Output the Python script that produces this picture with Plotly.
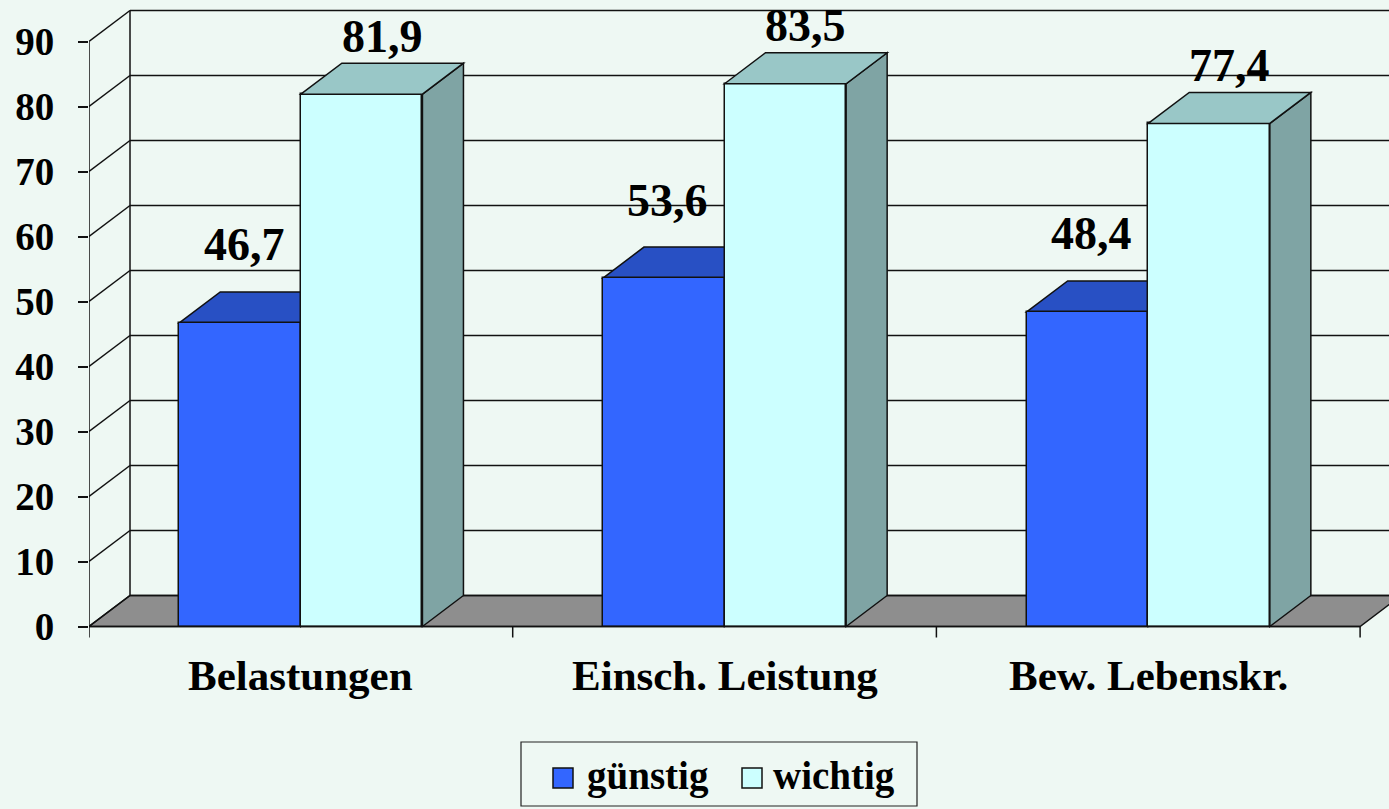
import plotly.graph_objects as go

# ---- data -------------------------------------------------------------
categories = ["Belastungen", "Einsch. Leistung", "Bew. Lebenskr."]
series_names = ["günstig", "wichtig"]
guenstig = [46.7, 53.6, 48.4]
wichtig = [81.9, 83.5, 77.4]
y_ticks = [0, 10, 20, 30, 40, 50, 60, 70, 80, 90]

# ---- styling ----------------------------------------------------------
BG = "#eef8f3"
FONT = "'Liberation Serif', 'Times New Roman', Times, 'DejaVu Serif', serif"
LINE = "#111111"
front_colors = ["#3366ff", "#ccffff"]
top_colors = ["#2850c4", "#99c7c7"]
side_colors = ["#2244aa", "#7fa4a4"]
FLOOR = "#8e8e8e"

W, H = 1389, 809
M_L, M_R, M_T, M_B = 89, 0, 0, 159
PLOT_W = W - M_L - M_R
PLOT_H = H - M_T - M_B

PX_PER_CAT = 423.7          # horizontal pixels for one category
PX_PER_UNIT = 6.5           # vertical pixels for one value unit
ZERO_PX = 626.5             # pixel row of the front zero line
DEPTH_X = 41 / PX_PER_CAT   # 3D depth offset in data units
DEPTH_Y = 31 / PX_PER_UNIT

GAP = 0.213                 # empty space at each side of a category
BAR_W = (1 - 2 * GAP) / 2

x_range = [0, PLOT_W / PX_PER_CAT]
y_range = [-(M_T + PLOT_H - ZERO_PX) / PX_PER_UNIT, (ZERO_PX - M_T) / PX_PER_UNIT]
n_cat = len(categories)
y_top = max(y_ticks)


def px_to_paper(px, py):
    return (px - M_L) / PLOT_W, (M_T + PLOT_H - py) / PLOT_H


shapes = []
line = dict(color=LINE, width=1.5)

# floor
shapes.append(dict(
    type="path", xref="x", yref="y", layer="below",
    path=(f"M0,0 L{n_cat},0 L{n_cat + DEPTH_X},{DEPTH_Y} "
          f"L{x_range[1] + 1},{DEPTH_Y} L{DEPTH_X},{DEPTH_Y} Z"),
    fillcolor=FLOOR, line=line))

# back-wall gridlines and left-wall diagonals
for v in y_ticks:
    shapes.append(dict(type="line", xref="x", yref="y", layer="below",
                       x0=DEPTH_X, x1=x_range[1] + 1, y0=v + DEPTH_Y, y1=v + DEPTH_Y,
                       line=line))
    shapes.append(dict(type="line", xref="x", yref="y", layer="below",
                       x0=0, x1=DEPTH_X, y0=v, y1=v + DEPTH_Y, line=line))
# back-wall corner and front axis line
shapes.append(dict(type="line", xref="x", yref="y", layer="below",
                   x0=DEPTH_X, x1=DEPTH_X, y0=DEPTH_Y, y1=y_top + DEPTH_Y, line=line))
shapes.append(dict(type="line", xref="x", yref="y", layer="above",
                   x0=0, x1=0, y0=0, y1=y_top, line=line))
# category ticks beneath the floor
tick_len = 11 / PX_PER_UNIT
for i in range(n_cat + 1):
    shapes.append(dict(type="line", xref="x", yref="y", layer="above",
                       x0=i, x1=i, y0=0, y1=-tick_len, line=line))
shapes.append(dict(type="line", xref="x", yref="y", layer="above",
                   x0=0, x1=n_cat, y0=0, y1=0, line=line))

# bars: fronts as Bar traces, top and side faces as paths
fig = go.Figure()
series = [guenstig, wichtig]
annotations = []
label_shift = [78, 58]
for s, values in enumerate(series):
    centers = [i + GAP + BAR_W * (s + 0.5) for i in range(n_cat)]
    fig.add_trace(go.Bar(
        x=centers, y=values, width=BAR_W, name=series_names[s],
        marker=dict(color=front_colors[s], line=dict(color=LINE, width=1.5)),
        showlegend=False, hoverinfo="skip"))
    layer = "below" if s == 0 else "above"
    for c, v in zip(centers, values):
        x0, x1 = c - BAR_W / 2, c + BAR_W / 2
        shapes.append(dict(
            type="path", xref="x", yref="y", layer=layer,
            path=(f"M{x1},0 L{x1 + DEPTH_X},{DEPTH_Y} L{x1 + DEPTH_X},{v + DEPTH_Y} "
                  f"L{x1},{v} Z"),
            fillcolor=side_colors[s], line=line))
        shapes.append(dict(
            type="path", xref="x", yref="y", layer=layer,
            path=(f"M{x0},{v} L{x0 + DEPTH_X},{v + DEPTH_Y} L{x1 + DEPTH_X},{v + DEPTH_Y} "
                  f"L{x1},{v} Z"),
            fillcolor=top_colors[s], line=line))
        annotations.append(dict(
            x=c + (DEPTH_X / 2 if s == 1 else 0.01), y=v, xref="x", yref="y",
            text=f"<b>{v:.1f}</b>".replace(".", ","), showarrow=False,
            yanchor="middle", yshift=label_shift[s],
            font=dict(family=FONT, size=46, color="#000000")))

# category labels
for i, name in enumerate(categories):
    annotations.append(dict(
        x=i + 0.5, y=0, xref="x", yref="y", text=f"<b>{name}</b>", showarrow=False,
        yanchor="middle", yshift=-49,
        font=dict(family=FONT, size=43, color="#000000")))

# legend box
bx0, by0 = px_to_paper(521, 742)
bx1, by1 = px_to_paper(917, 806)
shapes.append(dict(type="rect", xref="paper", yref="paper", x0=bx0, x1=bx1,
                   y0=by1, y1=by0, line=dict(color="#222222", width=1.2),
                   fillcolor=BG))
legend_items = [(553, 585), (742, 771)]
for s, (sq_x, tx) in enumerate(legend_items):
    qx0, qy0 = px_to_paper(sq_x, 768)
    qx1, qy1 = px_to_paper(sq_x + 20, 788)
    shapes.append(dict(type="rect", xref="paper", yref="paper", x0=qx0, x1=qx1,
                       y0=qy1, y1=qy0, fillcolor=front_colors[s],
                       line=dict(color=LINE, width=1.5)))
    ax, ay = px_to_paper(tx, 776)
    annotations.append(dict(
        x=ax, y=ay, xref="paper", yref="paper", text=f"<b>{series_names[s]}</b>",
        showarrow=False, xanchor="left", yanchor="middle",
        font=dict(family=FONT, size=39, color="#000000")))

fig.update_layout(
    width=W, height=H,
    margin=dict(l=M_L, r=M_R, t=M_T, b=M_B),
    paper_bgcolor=BG, plot_bgcolor=BG,
    barmode="overlay", bargap=0,
    shapes=shapes, annotations=annotations,
    xaxis=dict(range=x_range, visible=False, fixedrange=True),
    yaxis=dict(range=y_range, tickvals=y_ticks, ticks="outside", ticklen=10,
               tickwidth=1.5, tickcolor=LINE, showgrid=False, zeroline=False,
               showline=False, ticklabelstandoff=16,
               tickfont=dict(family=FONT, size=39, color="#000000", weight="bold")),
    showlegend=False,
)

fig.write_html("out.html")
